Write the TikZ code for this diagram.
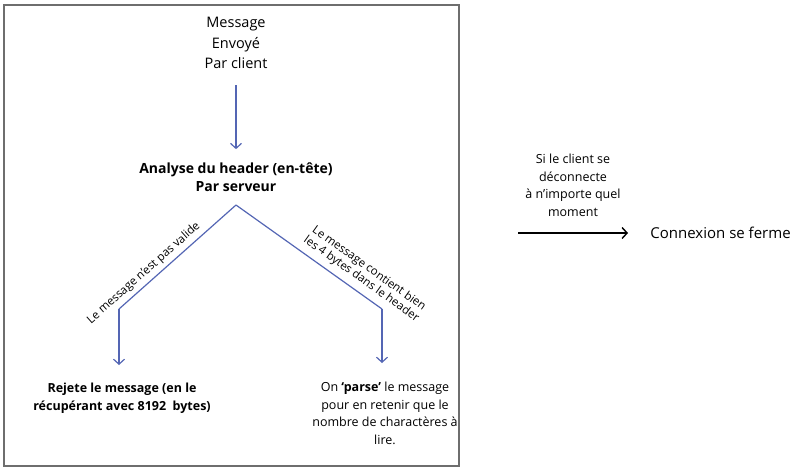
\documentclass[tikz,border=0pt]{standalone}
\usepackage{fontspec}
\setmainfont{Open Sans}
\usetikzlibrary{positioning,arrows.meta}
\definecolor{flowblue}{RGB}{84,102,180}
\definecolor{framegray}{RGB}{110,110,110}

\begin{document}
\begin{tikzpicture}[x=1pt,y=-1pt,>={Straight Barb[length=5pt,width=11pt]},thick,
	main node/.style={align=center,inner sep=0pt,font=\fontsize{14}{18}\selectfont},
	small node/.style={align=center,inner sep=0pt,font=\fontsize{12.5}{17.5}\selectfont},
	branch label/.style={sloped,above,align=center,inner sep=2pt,font=\fontsize{11.5}{13}\selectfont},
	flow/.style={draw=flowblue,line width=1.2pt}]
	
	\useasboundingbox (0,0) rectangle (800,472);
	\draw[framegray,line width=1.2pt] (4,5) rectangle (459,466);
	
	\node[main node, style={font=\fontsize{14.5}{18}\selectfont}] (envoi) at (236,43) {Message\\[3pt]Envoyé\\[2pt]Par client};
	\node[main node, style={font=\fontsize{14}{18}\selectfont\bfseries}] (analyse) at (236,177) {Analyse du header (en-tête)\\Par serveur};
	\coordinate (sommet) at (236,205);
	\coordinate (coingauche) at (119,309);
	\coordinate (coindroit) at (382,309);
	\coordinate (fingauche) at (119,365);
	\coordinate (findroit) at (382,363);
	\node[small node, style={font=\fontsize{12.5}{17.5}\selectfont\bfseries}] (rejet) [below=18pt of fingauche, xshift=3pt] {Rejete le message (en le\\récupérant avec 8192~ bytes)};
	\node[small node] (parse) [below=19pt of findroit, xshift=3pt] {On \textbf{‘parse’} le message\\pour en retenir que le\\nombre de charactères à\\lire.};
	
	\node[main node, anchor=west, style={font=\fontsize{15}{18}\selectfont}] (fermeture) at (650,233) {Connexion se ferme};
	\coordinate[left=22pt of fermeture.west] (arrivee);
	\coordinate (depart) at (518,233);
	
	\path[flow]
	(envoi) edge[->, shorten <=16pt, shorten >=13pt] (analyse)
	(sommet) edge (coingauche)
	(coingauche) edge[->] (fingauche)
	(sommet) edge (coindroit)
	(coindroit) edge[->] (findroit);
	
	\path (coingauche) -- node[branch label, pos=.27, inner sep=4pt] {Le message n’est pas valide} (sommet);
	\path (sommet) -- node[branch label, pos=.81, inner sep=6pt] {Le message contient bien\\les 4 bytes dans le header} (coindroit);
	
	\draw[->,line width=1.4pt] (depart) -- node[small node, above=16pt] {Si le client se\\déconnecte\\à n’importe quel\\moment} (arrivee);
	
\end{tikzpicture}
\end{document}
